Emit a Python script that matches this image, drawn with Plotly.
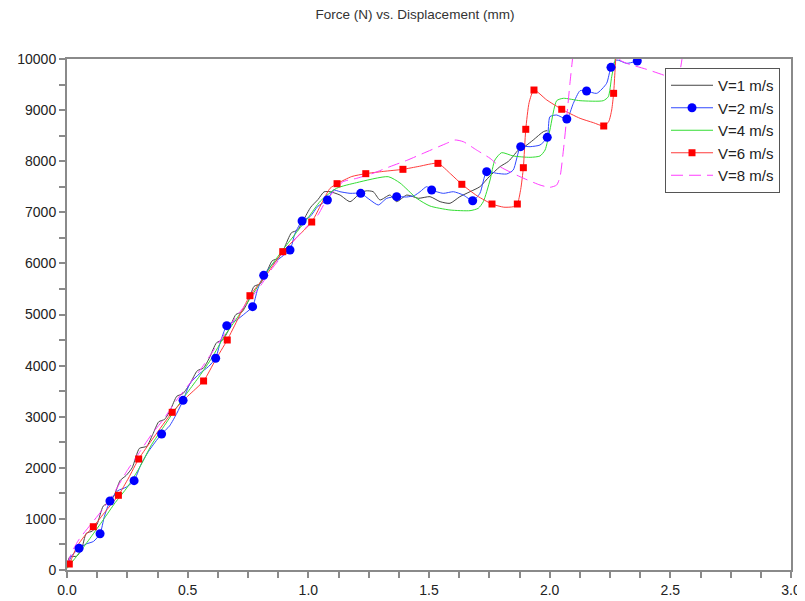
import plotly.graph_objects as go

# ---------------- data ----------------
series_names = ["V=1 m/s", "V=2 m/s", "V=4 m/s", "V=6 m/s", "V=8 m/s"]

v1_x = [0.000, 0.012, 0.040, 0.060, 0.080, 0.105, 0.125, 0.150, 0.175, 0.195, 0.220, 0.245,
        0.270, 0.300, 0.330, 0.355, 0.380, 0.405, 0.430, 0.455, 0.480, 0.510, 0.540, 0.565,
        0.590, 0.620, 0.645, 0.670, 0.700, 0.725, 0.750, 0.775, 0.800, 0.825, 0.850, 0.875,
        0.900, 0.930, 0.955, 0.980, 1.010, 1.040, 1.065, 1.090, 1.131, 1.173, 1.214, 1.240,
        1.269, 1.297, 1.338, 1.366, 1.408, 1.456, 1.504, 1.546, 1.587, 1.628, 1.670, 1.711,
        1.750, 1.794, 1.830, 1.877, 1.900, 1.932, 1.974, 1.990]
v1_y = [100, 260, 270, 400, 720, 760, 900, 1250, 1330, 1450, 1750, 1850,
        2000, 2380, 2420, 2650, 2900, 2950, 3150, 3400, 3450, 3650, 3900, 3950,
        4150, 4450, 4500, 4700, 5000, 5050, 5250, 5550, 5600, 5800, 6050, 6100,
        6300, 6600, 6650, 6850, 7100, 7250, 7400, 7403, 7338, 7208, 7371, 7420,
        7403, 7241, 7338, 7208, 7338, 7274, 7306, 7208, 7176, 7306, 7403, 7501,
        7700, 7893, 8000, 8252, 8300, 8415, 8578, 8600]

v2_x = [0.000, 0.020, 0.050, 0.080, 0.110, 0.137, 0.155, 0.178, 0.210, 0.245, 0.278, 0.305,
        0.337, 0.365, 0.392, 0.425, 0.455, 0.481, 0.510, 0.551, 0.586, 0.616, 0.634, 0.662,
        0.703, 0.738, 0.769, 0.789, 0.815, 0.855, 0.890, 0.924, 0.945, 0.974, 1.007, 1.040,
        1.079, 1.104, 1.131, 1.173, 1.217, 1.256, 1.290, 1.325, 1.366, 1.408, 1.440, 1.463,
        1.490, 1.511, 1.559, 1.601, 1.642, 1.681, 1.711, 1.739, 1.780, 1.822, 1.849, 1.880,
        1.919, 1.960, 1.990, 2.001, 2.029, 2.071, 2.098, 2.126, 2.153, 2.195, 2.236, 2.254,
        2.278, 2.319, 2.363]
v2_y = [80, 280, 425, 510, 560, 710, 1050, 1350, 1550, 1620, 1748, 2050,
        2315, 2500, 2661, 2820, 3066, 3320, 3653, 3849, 3979, 4143, 4436, 4781,
        4892, 5023, 5153, 5479, 5767, 6002, 6131, 6262, 6589, 6830, 6914, 7120,
        7241, 7436, 7403, 7371, 7371, 7241, 7143, 7274, 7306, 7300, 7330, 7403,
        7501, 7436, 7371, 7403, 7338, 7227, 7371, 7795, 7763, 7750, 7828, 8284,
        8284, 8317, 8467, 8871, 8904, 8826, 9132, 9380, 9374, 9328, 9524, 9837,
        9980, 9915, 9961]
v2_marker_x = [0.050, 0.137, 0.178, 0.278, 0.392, 0.481, 0.616, 0.662, 0.769, 0.815, 0.924,
               0.974, 1.079, 1.217, 1.366, 1.511, 1.681, 1.739, 1.880, 1.990, 2.071, 2.153,
               2.254, 2.363]
v2_marker_y = [425, 710, 1350, 1748, 2661, 3320, 4143, 4781, 5153, 5767, 6262,
               6830, 7241, 7371, 7306, 7436, 7227, 7795, 8284, 8467, 8826, 9374,
               9837, 9961]

v4_x = [0.000, 0.050, 0.100, 0.150, 0.200, 0.250, 0.300, 0.350, 0.400, 0.450, 0.500, 0.550,
        0.600, 0.650, 0.700, 0.750, 0.800, 0.850, 0.900, 0.950, 1.000, 1.050, 1.117, 1.200,
        1.331, 1.380, 1.449, 1.504, 1.587, 1.670, 1.704, 1.725, 1.753, 1.773, 1.801, 1.849,
        1.919, 1.960, 1.981, 2.001, 2.029, 2.057, 2.126, 2.222, 2.243, 2.257, 2.271, 2.280]
v4_y = [30, 330, 650, 980, 1320, 1620, 2000, 2450, 2800, 3150, 3480, 3800,
        4150, 4560, 4900, 5250, 5620, 5980, 6300, 6600, 6900, 7220, 7470, 7580,
        7697, 7573, 7274, 7123, 7045, 7032, 7078, 7208, 7632, 8023, 8167, 8102,
        8076, 8102, 8219, 8611, 9184, 9231, 9184, 9184, 9262, 9654, 9980, 10400]

v6_x = [0.000, 0.0095, 0.040, 0.070, 0.109, 0.160, 0.213, 0.255, 0.297, 0.360, 0.436, 0.500,
        0.566, 0.614, 0.664, 0.710, 0.758, 0.830, 0.894, 0.950, 1.014, 1.062, 1.090, 1.119,
        1.180, 1.238, 1.310, 1.392, 1.460, 1.537, 1.590, 1.636, 1.700, 1.761, 1.810, 1.850,
        1.866, 1.880, 1.891, 1.901, 1.915, 1.935, 1.988, 2.050, 2.126, 2.181, 2.224, 2.245,
        2.257, 2.265, 2.271, 2.280]
v6_y = [60, 117, 450, 650, 847, 1150, 1462, 1800, 2172, 2600, 3086, 3400,
        3699, 4100, 4501, 4930, 5368, 5800, 6230, 6500, 6810, 7241, 7469, 7560,
        7700, 7756, 7800, 7841, 7900, 7958, 7750, 7548, 7320, 7162, 7100, 7110,
        7162, 7450, 7873, 8624, 9150, 9393, 9198, 9016, 8839, 8754, 8689, 8780,
        9002, 9328, 9785, 10500]
v6_marker_x = [0.0095, 0.109, 0.213, 0.297, 0.436, 0.566, 0.664, 0.758, 0.894, 1.014, 1.119,
               1.238, 1.392, 1.537, 1.636, 1.761, 1.866, 1.891, 1.901, 1.935, 2.050, 2.224,
               2.265]
v6_marker_y = [117, 847, 1462, 2172, 3086, 3699, 4501, 5368, 6230, 6810, 7560,
               7756, 7841, 7958, 7548, 7162, 7162, 7873, 8624, 9393, 9016, 8689,
               9328]

v8_x = [0.000, 0.020, 0.050, 0.100, 0.150, 0.200, 0.250, 0.300, 0.350, 0.400, 0.450, 0.500,
        0.550, 0.600, 0.650, 0.700, 0.750, 0.800, 0.850, 0.900, 0.950, 1.000, 1.040, 1.070,
        1.104, 1.144, 1.200, 1.268, 1.338, 1.410, 1.476, 1.573, 1.608, 1.642, 1.697, 1.753,
        1.794, 1.877, 1.960, 2.001, 2.029, 2.043, 2.057, 2.071, 2.084, 2.095, 2.110, 2.180,
        2.250, 2.292, 2.319, 2.400, 2.471, 2.510, 2.535, 2.548, 2.560]
v8_y = [80, 350, 600, 900, 1200, 1550, 1950, 2300, 2650, 2950, 3300, 3600,
        3900, 4250, 4600, 4950, 5250, 5550, 5900, 6200, 6500, 6750, 6950, 7200,
        7403, 7599, 7665, 7763, 7893, 8020, 8154, 8350, 8415, 8382, 8219, 8056,
        7893, 7697, 7534, 7489, 7534, 7697, 8219, 8871, 9524, 10013, 10600, 10800,
        10300, 9980, 9915, 9800, 9687, 9620, 9700, 9990, 10600]

x_tickvals = [0.0, 0.5, 1.0, 1.5, 2.0, 2.5, 3.0]
y_tickvals = [0, 1000, 2000, 3000, 4000, 5000, 6000, 7000, 8000, 9000, 10000]

# ---------------- figure ----------------
FONT = "Liberation Sans, Arial, sans-serif"
c1, c2, c4, c6, c8 = "#444444", "#3048ff", "#33dd33", "#ff3b3b", "#ff3cff"

# the page body adds an 8px offset; the figure is sized to fit the window
W, H, OFF = 797, 593, 8

fig = go.Figure()
spl = dict(shape="spline", smoothing=0.6)

fig.add_trace(go.Scatter(x=v1_x, y=v1_y, mode="lines", name=series_names[0],
                         line=dict(color=c1, width=1, **spl), legendrank=1))
fig.add_trace(go.Scatter(x=v2_x, y=v2_y, mode="lines", showlegend=False,
                         line=dict(color=c2, width=1, **spl)))
fig.add_trace(go.Scatter(x=v4_x, y=v4_y, mode="lines", name=series_names[2],
                         line=dict(color=c4, width=1, **spl), legendrank=3))
fig.add_trace(go.Scatter(x=v6_x, y=v6_y, mode="lines", showlegend=False,
                         line=dict(color=c6, width=1, **spl)))
fig.add_trace(go.Scatter(x=v8_x, y=v8_y, mode="lines", name=series_names[4],
                         line=dict(color=c8, width=1, dash="12px,6px", **spl), legendrank=5))
fig.add_trace(go.Scatter(x=v2_marker_x, y=v2_marker_y, mode="markers", showlegend=False,
                         marker=dict(color="#0000ff", size=9, symbol="circle")))
fig.add_trace(go.Scatter(x=v6_marker_x, y=v6_marker_y, mode="markers", showlegend=False,
                         marker=dict(color="#ff0000", size=7, symbol="square")))
# legend entries for the marker series
fig.add_trace(go.Scatter(x=[None], y=[None], mode="lines+markers", name=series_names[1],
                         line=dict(color=c2, width=1),
                         marker=dict(color="#0000ff", size=9, symbol="circle"), legendrank=2))
fig.add_trace(go.Scatter(x=[None], y=[None], mode="lines+markers", name=series_names[3],
                         line=dict(color=c6, width=1),
                         marker=dict(color="#ff0000", size=7, symbol="square"), legendrank=4))

axis_common = dict(
    showgrid=False, zeroline=False, showline=True, mirror=True, automargin=False,
    linecolor="#8a8a8a", linewidth=2,
    ticks="outside", ticklen=6, tickwidth=1.5, tickcolor="#8a8a8a",
    tickfont=dict(family=FONT, size=14, color="#222222"),
)

fig.update_layout(
    width=W, height=H,
    paper_bgcolor="white", plot_bgcolor="white",
    margin=dict(l=67 - OFF, r=14, t=59 - OFF, b=31, autoexpand=False),
    font=dict(family=FONT, color="#222222"),
    title=dict(text="Force (N) vs. Displacement (mm)", x=(415 - OFF) / W, xanchor="center",
               y=1 - 2 / H, yanchor="top",
               font=dict(family=FONT, size=13.5, color="#333333")),
    xaxis=dict(range=[0, 3], tickvals=x_tickvals, tickformat=".1f",
               minor=dict(dtick=0.125, tick0=0, ticks="outside", ticklen=6,
                          tickwidth=1.5, tickcolor="#8a8a8a"),
               **axis_common),
    yaxis=dict(range=[0, 10000], tickvals=y_tickvals, tickformat="d",
               minor=dict(dtick=500, tick0=0, ticks="outside", ticklen=6,
                          tickwidth=1.5, tickcolor="#8a8a8a"),
               **axis_common),
    legend=dict(x=(665 - 67) / 724, y=(570 - 68) / 511, xanchor="left", yanchor="top",
                bgcolor="white", bordercolor="#555555", borderwidth=1,
                font=dict(family=FONT, size=15, color="#222222"),
                itemwidth=42, tracegroupgap=0),
    showlegend=True,
)

fig.write_html("out.html")
